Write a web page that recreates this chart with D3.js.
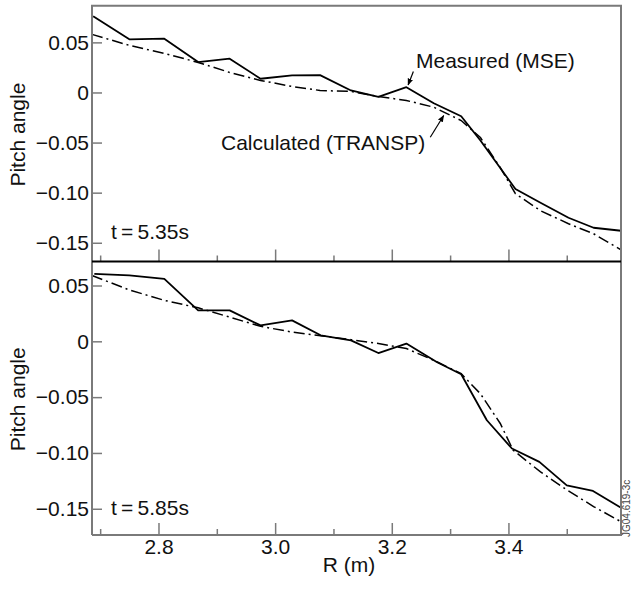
<!DOCTYPE html>
<html>
<head>
<meta charset="utf-8">
<script src="https://cdn.jsdelivr.net/npm/d3@7"></script>
<style>
  body { margin: 0; background: #fff; }
  svg { display: block; font-family: 'Liberation Sans', Arial, sans-serif; }
</style>
</head>
<body>
<div id="chart"></div>
<script>
// Top panel, t = 5.35s
const measR1 = [2.688, 2.750, 2.810, 2.868, 2.922, 2.975, 3.029, 3.077, 3.130, 3.177, 3.225, 3.272, 3.319, 3.352, 3.412, 3.455, 3.503, 3.546, 3.593];
const measV1 = [0.076, 0.053, 0.0537, 0.0303, 0.0337, 0.0137, 0.017, 0.0173, 0.002, -0.0043, 0.0053, -0.0107, -0.0237, -0.048, -0.0963, -0.110, -0.125, -0.135, -0.138];
const calcR1 = [2.686, 2.750, 2.810, 2.868, 2.922, 2.975, 3.029, 3.077, 3.130, 3.177, 3.225, 3.272, 3.319, 3.352, 3.386, 3.412, 3.455, 3.503, 3.546, 3.593];
const calcV1 = [0.058, 0.047, 0.039, 0.030, 0.020, 0.012, 0.006, 0.002, 0.001, -0.004, -0.008, -0.0147, -0.028, -0.045, -0.075, -0.101, -0.118, -0.131, -0.141, -0.157];

// Bottom panel, t = 5.85s
const measR2 = [2.690, 2.750, 2.810, 2.868, 2.922, 2.975, 3.029, 3.078, 3.130, 3.177, 3.225, 3.277, 3.319, 3.363, 3.406, 3.453, 3.500, 3.545, 3.593];
const measV2 = [0.0605, 0.059, 0.056, 0.0277, 0.0277, 0.0143, 0.0188, 0.0054, 0.0009, -0.0105, -0.002, -0.0185, -0.0295, -0.0707, -0.096, -0.108, -0.129, -0.134, -0.149];
const calcR2 = [2.686, 2.750, 2.810, 2.868, 2.922, 2.975, 3.029, 3.078, 3.130, 3.177, 3.225, 3.272, 3.319, 3.352, 3.386, 3.408, 3.455, 3.500, 3.546, 3.593];
const calcV2 = [0.059, 0.046, 0.0367, 0.030, 0.0217, 0.0134, 0.0083, 0.005, 0.0015, -0.002, -0.0065, -0.017, -0.029, -0.047, -0.0736, -0.0975, -0.117, -0.133, -0.148, -0.1616];

const yTicks = [0.05, 0, -0.05, -0.10, -0.15];
const yTickLabels = ['0.05', '0', '\u22120.05', '\u22120.10', '\u22120.15'];
const xMajor = [2.8, 3.0, 3.2, 3.4];
const xMajorLabels = ['2.8', '3.0', '3.2', '3.4'];
const xMinor = [2.7, 2.9, 3.1, 3.3, 3.5];

const width = 631, height = 589;
const left = 92, right = 621;
const FRAME = '#7a7a7a';
const FS = 21;

const svg = d3.select('#chart').append('svg')
  .attr('width', width)
  .attr('height', height);

svg.append('defs').append('marker')
    .attr('id', 'arrow')
    .attr('viewBox', '0 0 10 10')
    .attr('refX', 9).attr('refY', 5)
    .attr('markerWidth', 7).attr('markerHeight', 7)
    .attr('markerUnits', 'userSpaceOnUse')
    .attr('orient', 'auto')
  .append('path')
    .attr('d', 'M0,1 L10,5 L0,9 Z')
    .attr('fill', '#000');

const x = d3.scaleLinear().domain([2.686, 3.593]).range([left, right]);

const panels = [
  { top: 5.7, bottom: 261.5, dom: [0.0866, -0.1687], mR: measR1, mV: measV1, cR: calcR1, cV: calcV1, label: 't\u2009=\u20095.35s', labels: false },
  { top: 261.5, bottom: 535, dom: [0.0715, -0.1735], mR: measR2, mV: measV2, cR: calcR2, cV: calcV2, label: 't\u2009=\u20095.85s', labels: true }
];

panels.forEach((p, i) => {
  const y = d3.scaleLinear().domain(p.dom).range([p.top, p.bottom]);
  p.y = y;

  // y axis, ticks pointing inward
  const yAxis = svg.append('g')
    .attr('transform', `translate(${left},0)`)
    .call(d3.axisLeft(y)
      .tickValues(yTicks)
      .tickSize(-10)
      .tickPadding(3)
      .tickFormat((d, j) => yTickLabels[j]));
  yAxis.select('.domain').remove();
  yAxis.selectAll('.tick line').attr('stroke', FRAME).attr('stroke-width', 1.5);
  yAxis.selectAll('.tick text')
    .attr('font-size', FS)
    .attr('font-family', 'Liberation Sans, Arial, sans-serif')
    .attr('fill', '#111');

  // x ticks along bottom of panel
  const xAxis = svg.append('g')
    .attr('transform', `translate(0,${p.bottom})`)
    .call(d3.axisBottom(x)
      .tickValues(xMajor)
      .tickSize(-12)
      .tickPadding(4)
      .tickFormat((d, j) => p.labels ? xMajorLabels[j] : ''));
  xAxis.select('.domain').remove();
  xAxis.selectAll('.tick line').attr('stroke', FRAME).attr('stroke-width', 1.5);
  xAxis.selectAll('.tick text')
    .attr('font-size', FS)
    .attr('font-family', 'Liberation Sans, Arial, sans-serif')
    .attr('fill', '#111');

  const xMin = svg.append('g')
    .attr('transform', `translate(0,${p.bottom})`)
    .call(d3.axisBottom(x).tickValues(xMinor).tickSize(-6).tickFormat(''));
  xMin.select('.domain').remove();
  xMin.selectAll('.tick line').attr('stroke', FRAME).attr('stroke-width', 1.5);

  // y axis title
  svg.append('text')
    .attr('transform', `translate(25,${(p.top + p.bottom) / 2 + 1}) rotate(-90)`)
    .attr('text-anchor', 'middle')
    .attr('font-size', FS)
    .attr('fill', '#111')
    .text('Pitch angle');

  // time label
  svg.append('text')
    .attr('x', 111)
    .attr('y', y(-0.15) + (i === 0 ? -4 : 6.5))
    .attr('font-size', FS)
    .attr('fill', '#111')
    .text(p.label);

  const line = d3.line()
    .x(d => x(d[0]))
    .y(d => y(d[1]));

  svg.append('path')
    .datum(p.cR.map((r, j) => [r, p.cV[j]]))
    .attr('fill', 'none')
    .attr('stroke', '#000')
    .attr('stroke-width', 1.5)
    .attr('stroke-dasharray', '11,4,2,4')
    .attr('d', line);

  svg.append('path')
    .datum(p.mR.map((r, j) => [r, p.mV[j]]))
    .attr('fill', 'none')
    .attr('stroke', '#000')
    .attr('stroke-width', 1.8)
    .attr('stroke-linejoin', 'round')
    .attr('d', line);
});

// frame
svg.append('path')
  .attr('d', `M${left},535 L${left},5.7 L${right},5.7 L${right},535 L${left},535`)
  .attr('fill', 'none')
  .attr('stroke', FRAME)
  .attr('stroke-width', 2);
svg.append('line')
  .attr('x1', left).attr('x2', right)
  .attr('y1', 261.5).attr('y2', 261.5)
  .attr('stroke', '#000')
  .attr('stroke-width', 2);

// annotations (top panel)
const y1 = panels[0].y;
svg.append('text')
  .attr('x', 416).attr('y', 68)
  .attr('font-size', FS).attr('fill', '#111')
  .text('Measured (MSE)');
svg.append('line')
  .attr('x1', x(3.237)).attr('y1', y1(0.021))
  .attr('x2', x(3.228)).attr('y2', y1(0.0075))
  .attr('stroke', '#000').attr('stroke-width', 1.2)
  .attr('marker-end', 'url(#arrow)');

svg.append('text')
  .attr('x', 221).attr('y', 150)
  .attr('font-size', FS).attr('fill', '#111')
  .text('Calculated (TRANSP)');
svg.append('line')
  .attr('x1', x(3.266)).attr('y1', y1(-0.0447))
  .attr('x2', x(3.289)).attr('y2', y1(-0.023))
  .attr('stroke', '#000').attr('stroke-width', 1.2)
  .attr('marker-end', 'url(#arrow)');

// x axis title
svg.append('text')
  .attr('x', 349).attr('y', 572)
  .attr('text-anchor', 'middle')
  .attr('font-size', FS).attr('fill', '#111')
  .text('R (m)');

// figure id
svg.append('text')
  .attr('transform', 'translate(630,537) rotate(-90)')
  .attr('font-size', 10).attr('fill', '#444')
  .text('JG04.619-3c');
</script>
</body>
</html>
